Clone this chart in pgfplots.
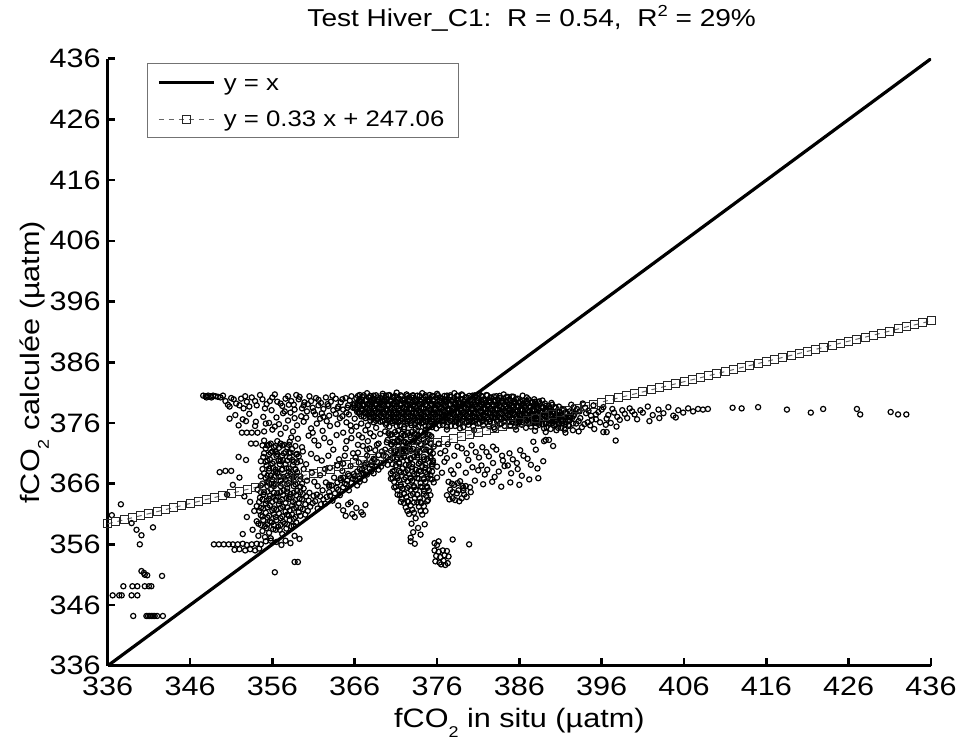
\documentclass[border=0pt]{standalone}
\usepackage{fontspec}
\setmainfont{Liberation Sans}[FakeStretch=1.15]
\usepackage{pgfplots}
\pgfplotsset{compat=1.18}
\newcommand{\sub}[1]{\raisebox{-4.7pt}{\fontsize{7.8}{8}\selectfont #1}}
\newcommand{\sups}[1]{\raisebox{4.8pt}{\fontsize{8}{8}\selectfont #1}}
\begin{document}
\begin{tikzpicture}
\begin{axis}[
  scale only axis, width=411.6pt, height=303.5pt,
  xmin=336, xmax=436, ymin=336, ymax=436,
  xtick={336,346,...,436}, ytick={336,346,...,436},
  axis x line*=bottom, axis y line*=left,
  axis line style={-, line width=1.3pt},
  every outer x axis line/.append style={-},
  every outer y axis line/.append style={-},
  tick style={line width=1.3pt, black},
  tick align=inside, major tick length=3.7pt,
  /pgf/number format/assume math mode=true,
  ticklabel style={font=\fontsize{13.3}{15}\selectfont},
  xticklabel style={yshift=-2pt},
  label style={font=\fontsize{13.3}{15}\selectfont},
  xlabel={fCO\sub{2} in situ (µatm)},
  ylabel={fCO\sub{2} calculée (µatm)},
  xlabel style={at={(axis description cs:0.5,0)}, anchor=base, yshift=-31pt},
  ylabel style={at={(axis description cs:-0.063,0.5)}, anchor=south},
  title={Test Hiver\_C1:\ \ R = 0.54,\ \ R\sups{2} = 29\%},
  title style={at={(axis description cs:0.515,1)}, anchor=base, yshift=10.3pt, font=\fontsize{12.2}{14}\selectfont},
  legend cell align=left,
  legend style={at={(axis description cs:0.0474,0.9924)}, anchor=north west,
    draw=black!55, line width=0.5pt, fill=white,
    font=\fontsize{11.2}{13}\selectfont,
    inner xsep=5pt, inner ysep=0.3pt, row sep=0pt, column sep=2.2pt,
    nodes={inner sep=2pt, text height=11pt, text depth=3.2pt, anchor=west}},
]
% scatter of data
\addplot[only marks, mark=o, mark size=1.3pt, black, mark options={line width=0.6pt}, forget plot] coordinates {
(366.6,380.6)(367.5,380.9)(368.3,380.5)(369.4,380.8)(370.2,380.6)(371.1,381.0)(372.3,380.7)(373.0,380.5)(374.2,380.9)(375.1,380.6)(376.0,380.8)(377.2,380.5)(378.1,380.9)(379.0,380.7)(380.3,380.5)(381.1,380.8)(382.0,380.6)(383.2,380.4)(384.1,380.7)(385.3,380.3)(386.4,380.5)
(366.2,380.1)(366.9,379.8)(367.7,380.2)(368.4,379.9)(369.1,380.1)(369.9,379.8)(370.6,380.2)(371.4,380.0)(372.1,379.8)(372.9,380.2)(373.6,379.9)(374.4,380.1)(375.1,379.8)(375.9,380.2)(376.6,380.0)(377.4,379.8)(378.1,380.1)(378.9,379.9)(379.6,380.2)(380.4,379.8)(381.1,380.0)(381.9,379.7)(382.6,380.1)(383.4,379.8)(384.1,380.0)(384.9,379.7)(385.6,379.9)(386.4,379.6)(387.1,379.9)(387.9,379.5)(388.8,379.7)
(366.0,379.2)(366.7,379.5)(367.5,379.1)(368.2,379.4)(369.0,379.2)(369.7,379.5)(370.5,379.1)(371.2,379.4)(372.0,379.3)(372.7,379.0)(373.5,379.4)(374.2,379.2)(375.0,379.5)(375.7,379.1)(376.5,379.3)(377.2,379.5)(378.0,379.1)(378.7,379.4)(379.5,379.2)(380.2,379.0)(381.0,379.3)(381.7,379.1)(382.5,379.4)(383.2,379.0)(384.0,379.3)(384.7,379.1)(385.5,379.3)(386.2,378.9)(387.0,379.2)(387.7,378.9)(388.5,379.1)(389.2,378.8)(390.0,379.0)(390.8,378.7)
(365.8,378.5)(366.6,378.8)(367.3,378.4)(368.1,378.7)(368.8,378.5)(369.6,378.8)(370.3,378.4)(371.1,378.7)(371.8,378.5)(372.6,378.3)(373.3,378.7)(374.1,378.5)(374.8,378.8)(375.6,378.4)(376.3,378.6)(377.1,378.8)(377.8,378.4)(378.6,378.7)(379.3,378.5)(380.1,378.3)(380.8,378.6)(381.6,378.4)(382.3,378.7)(383.1,378.3)(383.8,378.6)(384.6,378.4)(385.3,378.6)(386.1,378.2)(386.8,378.5)(387.6,378.2)(388.3,378.4)(389.1,378.1)(389.8,378.3)(390.6,378.0)(391.4,378.2)(392.1,377.9)
(366.3,377.8)(367.0,378.1)(367.8,377.7)(368.5,378.0)(369.3,377.8)(370.0,378.1)(370.8,377.7)(371.5,378.0)(372.3,377.8)(373.0,377.6)(373.8,378.0)(374.5,377.8)(375.3,378.1)(376.0,377.7)(376.8,377.9)(377.5,378.1)(378.3,377.7)(379.0,378.0)(379.8,377.8)(380.5,377.6)(381.3,377.9)(382.0,377.7)(382.8,378.0)(383.5,377.6)(384.3,377.9)(385.0,377.7)(385.8,377.9)(386.5,377.5)(387.3,377.8)(388.0,377.5)(388.8,377.7)(389.5,377.4)(390.3,377.6)(391.0,377.3)(391.8,377.5)(392.6,377.2)
(366.8,377.1)(367.6,377.4)(368.3,377.0)(369.1,377.3)(369.8,377.1)(370.6,377.4)(371.3,377.0)(372.1,377.3)(372.8,377.1)(373.6,376.9)(374.3,377.3)(375.1,377.1)(375.8,377.4)(376.6,377.0)(377.3,377.2)(378.1,377.4)(378.8,377.0)(379.6,377.3)(380.3,377.1)(381.1,376.9)(381.8,377.2)(382.6,377.0)(383.3,377.3)(384.1,376.9)(384.8,377.2)(385.6,377.0)(386.3,377.2)(387.1,376.8)(387.8,377.1)(388.6,376.8)(389.3,377.0)(390.1,376.7)(390.8,376.9)(391.6,376.6)(392.4,376.8)
(367.9,376.4)(368.7,376.7)(369.4,376.3)(370.2,376.6)(370.9,376.4)(371.7,376.7)(372.4,376.3)(373.2,376.6)(373.9,376.4)(374.7,376.2)(375.4,376.6)(376.2,376.4)(376.9,376.7)(377.7,376.3)(378.4,376.5)(379.2,376.7)(379.9,376.3)(380.7,376.6)(381.6,376.4)(382.4,376.2)(383.3,376.5)(384.2,376.3)(385.1,376.6)(386.0,376.2)(386.8,376.5)(387.6,376.3)(388.4,376.4)(389.2,376.0)(390.0,376.3)(390.8,376.0)(391.6,376.2)(392.5,375.9)
(369.8,375.7)(370.6,376.0)(371.5,375.6)(372.4,375.9)(373.3,375.7)(374.1,376.0)(375.0,375.6)(375.8,375.9)(376.7,375.7)(377.7,375.5)(378.6,375.9)(379.8,375.7)(381.0,375.9)(382.3,375.5)(383.6,375.8)(384.9,375.6)(386.3,375.7)(387.4,375.4)(388.4,375.7)(389.3,375.3)(390.2,375.6)(391.1,375.2)(392.0,375.5)
(372.0,375.0)(373.4,375.2)(374.6,374.9)(375.9,375.1)(377.2,374.9)(378.8,375.1)(380.5,374.8)(383.0,375.0)(385.6,374.9)(387.9,374.7)(389.2,374.5)(390.5,374.8)(391.6,374.4)
(366.9,380.3)(367.9,380.4)(368.8,380.2)(369.8,380.5)(370.7,380.3)(371.7,380.4)(372.6,380.2)(373.6,380.5)(374.6,380.3)(375.5,380.4)(376.4,380.2)(377.6,380.3)(378.5,380.5)(379.5,380.2)(380.7,380.4)(381.5,380.3)(382.5,380.2)(383.6,380.1)(384.6,380.3)(385.8,380.0)(386.9,380.2)(387.8,379.9)
(366.5,379.6)(367.3,379.7)(368.0,379.5)(368.8,379.8)(369.5,379.6)(370.3,379.7)(371.0,379.5)(371.8,379.8)(372.5,379.6)(373.3,379.7)(374.0,379.5)(374.8,379.8)(375.5,379.6)(376.3,379.7)(377.0,379.5)(377.8,379.6)(378.5,379.8)(379.3,379.5)(380.0,379.7)(380.8,379.6)(381.5,379.4)(382.3,379.7)(383.0,379.5)(383.8,379.6)(384.5,379.4)(385.3,379.5)(386.0,379.3)(386.8,379.5)(387.5,379.3)(388.3,379.4)(389.1,379.2)(389.9,379.3)
(365.9,378.9)(366.4,379.0)(367.1,378.8)(367.9,379.1)(368.6,378.9)(369.4,379.0)(370.1,378.8)(370.9,379.1)(371.6,378.9)(372.4,379.0)(373.1,378.8)(373.9,379.1)(374.6,378.9)(375.4,379.0)(376.1,378.8)(376.9,378.9)(377.6,379.1)(378.4,378.8)(379.1,379.0)(379.9,378.9)(380.6,378.7)(381.4,379.0)(382.1,378.8)(382.9,378.9)(383.6,378.7)(384.4,378.8)(385.1,378.6)(385.9,378.8)(386.6,378.6)(387.4,378.7)(388.1,378.5)(388.9,378.6)(389.6,378.4)(390.4,378.5)(391.2,378.3)
(366.2,378.2)(366.9,378.3)(367.7,378.1)(368.4,378.4)(369.2,378.2)(369.9,378.3)(370.7,378.1)(371.4,378.4)(372.2,378.2)(372.9,378.3)(373.7,378.1)(374.4,378.4)(375.2,378.2)(375.9,378.3)(376.7,378.1)(377.4,378.2)(378.2,378.4)(378.9,378.1)(379.7,378.3)(380.4,378.2)(381.2,378.0)(381.9,378.3)(382.7,378.1)(383.4,378.2)(384.2,378.0)(384.9,378.1)(385.7,377.9)(386.4,378.1)(387.2,377.9)(387.9,378.0)(388.7,377.8)(389.4,377.9)(390.2,377.7)(390.9,377.8)(391.7,377.6)(392.4,377.7)
(366.6,377.5)(367.4,377.6)(368.1,377.4)(368.9,377.7)(369.6,377.5)(370.4,377.6)(371.1,377.4)(371.9,377.7)(372.6,377.5)(373.4,377.6)(374.1,377.4)(374.9,377.7)(375.6,377.5)(376.4,377.6)(377.1,377.4)(377.9,377.5)(378.6,377.7)(379.4,377.4)(380.1,377.6)(380.9,377.5)(381.6,377.3)(382.4,377.6)(383.1,377.4)(383.9,377.5)(384.6,377.3)(385.4,377.4)(386.1,377.2)(386.9,377.4)(387.6,377.2)(388.4,377.3)(389.1,377.1)(389.9,377.2)(390.6,377.0)(391.4,377.1)(392.2,376.9)
(367.3,376.8)(368.0,376.9)(368.8,376.7)(369.5,377.0)(370.3,376.8)(371.0,376.9)(371.8,376.7)(372.5,377.0)(373.3,376.8)(374.0,376.9)(374.8,376.7)(375.5,377.0)(376.3,376.8)(377.0,376.9)(377.8,376.7)(378.5,376.8)(379.3,377.0)(380.0,376.7)(380.8,376.9)(381.5,376.8)(382.3,376.6)(383.0,376.9)(383.8,376.7)(384.5,376.8)(385.3,376.6)(386.0,376.7)(386.8,376.5)(387.5,376.7)(388.3,376.5)(389.0,376.6)(389.8,376.4)(390.5,376.5)(391.3,376.3)(392.1,376.4)
(368.3,376.1)(369.1,376.2)(369.8,376.0)(370.6,376.3)(371.3,376.1)(372.1,376.2)(372.8,376.0)(373.6,376.3)(374.3,376.1)(375.1,376.2)(375.8,376.0)(376.6,376.3)(377.3,376.1)(378.1,376.2)(378.8,376.0)(379.6,376.1)(380.3,376.3)(381.2,376.0)(382.0,376.2)(382.9,376.1)(383.8,375.9)(384.7,376.2)(385.6,376.0)(386.4,376.1)(387.2,375.9)(388.0,376.0)(388.8,375.8)(389.6,376.0)(390.4,375.8)(391.2,375.9)(392.0,375.7)
(370.2,375.4)(371.1,375.5)(372.0,375.3)(372.9,375.6)(373.7,375.4)(374.6,375.5)(375.4,375.3)(376.3,375.6)(377.2,375.4)(378.2,375.5)(379.2,375.3)(380.4,375.4)(381.6,375.6)(382.9,375.3)(384.2,375.5)(385.5,375.4)(386.8,375.2)(388.0,375.4)(389.0,375.1)(389.8,375.0)(390.7,375.2)(391.5,374.9)
(366.4,380.45)(367.1,380.55)(367.9,380.45)(368.6,380.55)(369.4,380.45)(370.1,380.55)(370.9,380.45)(371.6,380.55)(372.4,380.45)(373.1,380.55)(373.9,380.45)(374.6,380.55)(375.4,380.45)(376.1,380.55)(376.9,380.45)(377.6,380.55)(378.4,380.45)(379.1,380.55)(379.9,380.45)(380.6,380.55)(381.4,380.45)(382.1,380.55)(382.9,380.35)(383.6,380.45)(384.4,380.25)(385.1,380.35)
(366.6,379.85)(367.4,379.75)(368.1,379.85)(368.9,379.75)(369.6,379.85)(370.4,379.75)(371.1,379.85)(371.9,379.75)(372.6,379.85)(373.4,379.75)(374.1,379.85)(374.9,379.75)(375.6,379.85)(376.4,379.75)(377.1,379.85)(377.9,379.75)(378.6,379.85)(379.4,379.75)(380.1,379.85)(380.9,379.75)(381.6,379.85)(382.4,379.75)(383.1,379.75)(383.9,379.65)(384.6,379.75)(385.4,379.65)(386.1,379.55)(386.9,379.65)(387.6,379.45)(388.4,379.55)
(366.3,379.15)(367.1,379.05)(367.8,379.15)(368.6,379.05)(369.3,379.15)(370.1,379.05)(370.8,379.15)(371.6,379.05)(372.3,379.15)(373.1,379.05)(373.8,379.15)(374.6,379.05)(375.3,379.15)(376.1,379.05)(376.8,379.15)(377.6,379.05)(378.3,379.15)(379.1,379.05)(379.8,379.15)(380.6,379.05)(381.3,379.15)(382.1,379.05)(382.8,379.05)(383.6,378.95)(384.3,379.05)(385.1,378.95)(385.8,378.85)(386.6,378.95)(387.3,378.75)(388.1,378.85)(388.8,378.65)(389.6,378.75)(390.4,378.55)
(366.0,378.45)(366.8,378.35)(367.5,378.45)(368.3,378.35)(369.0,378.45)(369.8,378.35)(370.5,378.45)(371.3,378.35)(372.0,378.45)(372.8,378.35)(373.5,378.45)(374.3,378.35)(375.0,378.45)(375.8,378.35)(376.5,378.45)(377.3,378.35)(378.0,378.45)(378.8,378.35)(379.5,378.45)(380.3,378.35)(381.0,378.45)(381.8,378.35)(382.5,378.35)(383.3,378.25)(384.0,378.35)(384.8,378.25)(385.5,378.15)(386.3,378.25)(387.0,378.05)(387.8,378.15)(388.5,377.95)(389.3,378.05)(390.0,377.85)(390.8,377.95)(391.6,377.75)
(366.5,377.75)(367.2,377.65)(368.0,377.75)(368.7,377.65)(369.5,377.75)(370.2,377.65)(371.0,377.75)(371.7,377.65)(372.5,377.75)(373.2,377.65)(374.0,377.75)(374.7,377.65)(375.5,377.75)(376.2,377.65)(377.0,377.75)(377.7,377.65)(378.5,377.75)(379.2,377.65)(380.0,377.75)(380.7,377.65)(381.5,377.75)(382.2,377.65)(383.0,377.65)(383.7,377.55)(384.5,377.65)(385.2,377.55)(386.0,377.45)(386.7,377.55)(387.5,377.35)(388.2,377.45)(389.0,377.25)(389.7,377.35)(390.5,377.15)(391.2,377.25)(392.0,377.05)
(367.1,377.05)(367.8,376.95)(368.6,377.05)(369.3,376.95)(370.1,377.05)(370.8,376.95)(371.6,377.05)(372.3,376.95)(373.1,377.05)(373.8,376.95)(374.6,377.05)(375.3,376.95)(376.1,377.05)(376.8,376.95)(377.6,377.05)(378.3,376.95)(379.1,377.05)(379.8,376.95)(380.6,377.05)(381.3,376.95)(382.1,376.95)(382.8,376.85)(383.6,376.95)(384.3,376.85)(385.1,376.75)(385.8,376.85)(386.6,376.65)(387.3,376.75)(388.1,376.55)(388.8,376.65)(389.6,376.45)(390.3,376.55)(391.1,376.35)(391.9,376.45)
(368.6,376.35)(369.4,376.25)(370.1,376.35)(370.9,376.25)(371.6,376.35)(372.4,376.25)(373.1,376.35)(373.9,376.25)(374.6,376.35)(375.4,376.25)(376.1,376.35)(376.9,376.25)(377.6,376.35)(378.4,376.25)(379.1,376.35)(379.9,376.25)(380.6,376.35)(381.5,376.25)(382.4,376.25)(383.3,376.15)(384.2,376.25)(385.1,376.15)(386.0,376.05)(386.8,376.15)(387.6,375.95)(388.4,376.05)(389.2,375.85)(390.0,375.95)(390.8,375.75)(391.6,375.85)
(347.6,380.5)(347.9,380.4)(348.2,380.5)(348.5,380.4)(348.8,380.5)(349.1,380.4)(349.4,380.3)(349.7,380.2)(348.0,380.2)(348.6,380.2)
(350.3,379.6)(351.0,380.1)(351.6,379.2)(352.2,380.0)(352.9,379.5)(353.5,380.2)(354.1,378.9)(354.8,379.9)(355.3,379.1)(356.0,380.2)(356.6,379.5)(357.2,378.8)(350.8,378.7)(352.5,378.4)(355.9,378.1)(357.6,380.0)(358.3,379.6)
(357.9,380.4)(358.6,379.0)(359.3,380.3)(359.9,379.4)(358.2,377.7)(359.5,377.1)
(350.0,380.5)(350.6,379.0)(351.3,379.9)(352.0,378.9)(352.7,380.4)(353.2,378.7)(353.9,379.6)(354.5,380.6)(355.1,378.4)(355.7,379.6)(356.3,380.7)(357.0,379.2)(357.5,377.9)(358.0,379.0)(358.9,380.6)(359.6,378.4)(360.3,379.1)(360.5,380.4)(361.0,377.9)(361.6,379.8)(362.2,377.0)(362.7,379.1)(363.3,380.5)(363.9,378.4)(364.5,379.9)(365.0,377.7)(365.6,380.4)(365.1,378.5)(364.2,376.8)(363.0,375.5)(361.8,376.7)(360.7,375.1)(359.8,376.2)(358.7,376.8)(357.6,375.2)(356.3,375.4)(355.2,375.9)(353.9,375.5)(352.8,376.3)(351.9,375.6)(350.8,376.7)(366.0,376.7)(365.5,375.6)(366.8,375.9)(367.6,375.6)(368.6,375.2)(369.1,374.2)(367.9,374.3)(366.5,374.0)(365.6,374.7)
(360.7,379.6)(361.3,380.1)(361.9,379.3)(362.5,380.2)(363.1,379.5)(363.7,380.0)(364.3,379.4)(364.9,380.1)(365.4,379.7)
(360.9,378.5)(361.6,378.9)(362.2,378.3)(362.8,378.8)(363.4,378.1)(364.0,378.7)(364.6,378.2)(365.2,378.9)
(361.2,377.4)(362.0,377.6)(362.9,377.2)(363.7,377.5)(364.5,377.1)(365.3,377.4)
(359.2,379.9)(359.8,378.9)(360.2,377.9)(358.7,378.2)
(357.9,376.4)(359.0,375.6)(360.1,376.9)(358.5,374.6)(361.4,375.9)(362.6,376.3)(363.9,375.8)(365.0,376.1)(366.2,375.4)(367.3,374.8)(364.6,374.4)(362.1,374.7)(360.4,373.9)(359.1,373.4)
(351.5,377.3)(352.4,376.6)(353.2,377.5)(354.0,376.2)(354.9,377.0)(355.6,376.0)(352.3,374.4)(352.9,374.4)(353.5,374.4)(354.2,374.4)(355.0,374.6)(356.0,374.9)(356.8,375.8)(353.4,372.6)(354.0,372.6)(351.9,370.4)(352.8,369.9)(350.3,368.1)(351.0,368.1)(349.6,367.9)(352.0,367.0)(351.2,365.8)(350.5,364.2)(352.6,363.9)(356.5,376.9)(357.3,377.6)
(360.9,374.4)(362.3,373.5)(363.8,374.0)(365.6,373.5)(367.6,373.0)(368.9,372.6)(367.8,371.8)(366.4,372.4)(364.9,371.8)(363.0,372.8)(361.1,373.1)(359.2,370.5)(360.1,369.2)(361.4,370.2)(362.8,370.6)(364.6,369.3)(366.1,370.3)(367.2,369.1)(368.3,370.1)(369.3,371.3)(360.8,367.8)(362.4,368.4)(363.9,369.0)(365.2,367.6)(366.9,368.4)(368.1,369.0)(361.1,366.3)(362.9,365.8)(364.3,366.6)(359.0,369.5)(359.7,371.3)(358.3,373.6)(357.0,374.2)
(355.0,373.1)(355.8,372.6)(356.6,373.0)(357.4,372.4)(358.1,372.9)
(355.2,371.8)(356.0,371.3)(356.8,371.9)(357.6,371.2)(358.4,371.7)
(354.9,370.4)(355.7,370.0)(356.5,370.6)(357.3,369.9)(358.1,370.3)(358.9,370.8)
(355.3,369.0)(356.1,368.6)(356.9,369.2)(357.7,368.5)(358.5,369.1)
(355.0,367.7)(355.8,367.3)(356.6,367.8)(357.4,367.1)(358.2,367.6)(359.0,367.9)
(355.4,366.3)(356.2,366.0)(357.0,366.5)(357.8,365.9)(358.6,366.4)(359.4,366.7)
(354.2,365.0)(355.0,364.6)(355.8,365.1)(356.6,364.4)(357.4,364.9)(358.2,364.3)(359.0,364.8)(359.8,365.2)
(354.5,363.7)(355.3,363.2)(356.1,363.8)(356.9,363.1)(357.7,363.6)(358.5,363.0)(359.3,363.5)(360.1,363.9)
(354.1,362.3)(354.9,361.9)(355.7,362.4)(356.5,361.7)(357.3,362.2)(358.1,361.6)(358.9,362.1)(359.7,361.8)
(354.6,360.8)(355.4,360.4)(356.2,361.0)(357.0,360.3)(357.8,360.9)(358.6,360.2)(359.4,360.7)
(354.3,359.4)(355.1,359.0)(355.9,359.6)(356.7,358.9)(357.5,359.4)(358.3,359.0)
(354.8,358.2)(355.6,357.9)(356.4,358.4)(357.2,357.7)
(355.4,372.3)(356.2,372.0)(357.0,372.6)(357.8,372.0)(355.6,370.8)(356.4,371.2)(357.2,370.6)(358.0,371.0)(355.2,369.6)(356.0,369.3)(356.8,369.8)(357.6,369.2)(358.4,369.9)(355.6,368.1)(356.4,368.0)(357.2,368.3)(358.0,368.0)(358.8,368.4)(355.2,366.9)(356.0,366.7)(356.8,367.1)(357.6,366.7)(358.4,367.1)(354.6,365.7)(355.4,365.6)(356.2,365.6)(357.0,365.6)(357.8,365.2)(358.6,365.6)(359.4,365.5)(354.9,364.2)(355.7,364.0)(356.5,363.9)(357.3,364.1)(358.1,363.8)(358.9,364.1)(359.7,364.3)(354.4,363.0)(355.2,362.7)(356.0,363.0)(356.8,362.6)(357.6,362.8)(358.4,362.4)(359.2,362.8)(360.0,362.6)(354.4,361.5)(355.2,361.2)(356.0,361.6)(356.8,361.1)(357.6,361.4)(358.4,360.9)(359.2,361.3)(360.0,360.9)(354.9,360.0)(355.7,359.8)(356.5,360.0)(357.3,359.7)(358.1,360.0)(358.9,359.6)(355.3,358.7)(356.1,358.5)(356.9,358.4)(357.7,358.6)(354.3,357.4)(355.1,357.2)(355.8,356.6)
(354.8,372.3)(355.6,372.4)(356.4,372.2)(357.2,372.3)(358.0,372.4)(358.8,372.2)
(355.0,371.0)(355.8,371.1)(356.6,370.9)(357.4,371.0)(358.2,371.1)(359.0,370.9)
(354.6,369.7)(355.4,369.8)(356.2,369.6)(357.0,369.7)(357.8,369.8)(358.6,369.6)(359.4,369.7)
(354.8,368.4)(355.6,368.5)(356.4,368.3)(357.2,368.4)(358.0,368.5)(358.8,368.3)
(354.6,367.2)(355.4,367.3)(356.2,367.1)(357.0,367.2)(357.8,367.3)(358.6,367.1)(359.4,367.2)
(354.8,366.0)(355.6,366.1)(356.4,365.9)(357.2,366.0)(358.0,366.1)(358.8,365.9)(359.6,366.0)
(354.6,364.6)(355.4,364.7)(356.2,364.5)(357.0,364.6)(357.8,364.7)(358.6,364.5)(359.4,364.6)
(354.8,363.4)(355.6,363.5)(356.4,363.3)(357.2,363.4)(358.0,363.5)(358.8,363.3)(359.6,363.4)
(354.6,362.0)(355.4,362.1)(356.2,361.9)(357.0,362.0)(357.8,362.1)(358.6,361.9)(359.4,362.0)
(354.8,360.6)(355.6,360.7)(356.4,360.5)(357.2,360.6)(358.0,360.7)(358.8,360.5)
(354.6,359.2)(355.4,359.3)(356.2,359.1)(357.0,359.2)(357.8,359.3)(358.6,359.1)
(360.3,361.5)(360.9,362.8)(361.5,361.9)(361.8,363.9)(362.4,362.7)(362.9,364.6)(363.3,363.2)(363.8,365.3)(364.2,364.1)(364.8,366.0)(365.3,364.9)(365.8,366.8)(366.3,365.7)(366.8,367.6)(367.2,366.6)(367.8,368.5)(368.3,367.7)(368.7,369.6)(369.2,368.8)(369.8,370.5)(370.3,369.9)(370.9,371.4)(371.4,370.8)(371.9,372.3)
(360.5,364.5)(361.5,365.6)(362.5,366.2)(363.5,367.0)(364.5,368.1)(365.5,368.9)(366.5,369.5)(367.5,370.6)(368.5,371.5)(360.2,366.5)(361.8,367.4)(363.0,368.6)(364.1,370.0)(365.8,371.0)(367.0,372.2)(362.0,369.8)(359.8,368.4)(360.7,370.9)(363.4,371.6)(365.0,373.0)(366.9,373.6)(368.3,373.8)(361.6,372.3)(359.6,372.0)
(360.6,362.2)(361.2,363.1)(361.9,362.6)(362.6,363.8)(363.0,364.0)(363.6,364.4)(364.0,365.0)(364.6,365.4)(365.0,365.9)(365.6,366.1)(366.1,366.7)(366.6,366.3)(367.0,367.8)(367.5,367.5)(368.0,368.0)(368.5,368.8)(368.9,368.3)(369.5,369.4)(370.0,369.1)(370.6,370.2)(371.1,370.0)(371.6,371.7)(372.2,371.2)(372.6,372.2)(361.0,364.0)(362.1,364.9)(363.2,365.7)(364.3,366.9)(365.3,367.3)(366.3,368.0)(367.3,368.8)(368.4,369.9)(369.5,370.6)(370.4,371.4)(371.3,372.1)
(360.4,363.2)(361.4,364.2)(362.2,363.4)(362.9,365.5)(363.9,366.2)(364.6,367.0)(365.1,366.5)(365.9,367.6)(366.6,368.4)(367.4,369.4)(368.1,369.6)(368.9,370.7)(369.7,371.6)(370.5,372.4)(371.2,373.2)(369.9,372.8)(368.7,372.4)(367.5,371.6)(366.4,371.1)(364.8,370.6)
(364.0,362.4)(364.6,361.6)(365.2,362.6)(365.7,361.0)(366.2,362.0)(366.8,361.3)(367.3,362.5)(364.9,360.7)(366.0,360.5)(367.0,360.9)(365.5,362.9)(366.0,367.2)(366.6,366.8)(367.1,367.5)
(348.9,356.0)(349.5,356.0)(350.1,356.0)(350.7,356.0)(351.2,356.0)(351.8,356.0)(352.4,356.1)(352.9,355.9)(353.5,356.0)(354.1,356.1)(354.6,356.0)
(351.4,355.1)(352.0,355.2)(352.7,355.0)(353.3,355.2)(353.9,355.0)(354.4,355.3)
(355.2,356.5)(355.8,357.0)(356.5,356.4)(357.1,355.9)(357.6,356.6)(358.2,356.2)(358.7,357.4)(359.3,356.9)(358.7,353.1)(359.1,353.1)(356.3,351.4)
(352.4,357.7)(353.6,358.4)(354.1,359.8)(353.8,361.5)(353.3,363.0)(352.9,360.5)
(336.5,360.8)(337.6,362.6)(338.9,359.5)(339.5,358.4)(340.1,357.5)(339.9,356.0)(341.5,358.8)
(340.1,351.6)(340.4,351.3)(340.8,350.9)(342.6,350.8)(340.5,351.0)
(337.9,349.1)(339.0,349.1)(339.6,349.1)(340.5,349.1)(341.3,349.1)(341.0,349.1)
(336.6,347.6)(337.4,347.6)(337.7,347.6)(338.9,347.6)(339.6,347.6)
(339.1,344.2)(340.7,344.2)(340.9,344.2)(341.1,344.2)(341.3,344.2)(341.5,344.2)(341.7,344.2)(342.0,344.2)(342.7,344.2)
(375.6,372.1)(376.4,371.0)(377.3,372.5)(378.1,370.6)(379.0,371.8)(379.8,369.9)(380.7,371.2)(381.5,372.0)(382.3,370.5)(383.2,371.6)(384.0,369.8)(384.8,371.0)(385.7,369.4)(386.5,370.6)(387.4,369.1)(388.2,368.5)(388.9,369.7)
(381.4,369.0)(382.1,368.3)(382.8,369.4)(383.5,368.0)(384.2,368.9)(385.0,367.7)(385.8,368.4)(386.3,367.3)(383.0,367.1)(381.8,367.5)
(376.0,368.8)(376.9,369.6)(377.7,368.2)(378.6,369.0)(379.5,367.8)(380.3,368.7)(380.6,366.5)(381.6,365.9)(382.7,366.3)(383.8,365.5)(384.9,366.2)(386.0,365.8)(387.2,366.7)(388.3,366.9)(379.2,365.3)
(376.2,372.6)(377.0,371.4)(378.5,372.1)(379.6,371.0)(380.2,372.3)(381.1,370.3)(382.0,371.2)(382.8,372.1)(383.9,370.6)(385.2,370.0)(386.1,371.5)(387.0,370.1)(388.0,371.6)(384.6,369.0)(381.0,368.2)(377.2,370.2)(378.0,367.6)(375.5,369.8)(376.6,367.8)
(389.2,373.2)(389.6,373.2)(389.0,373.0)(390.1,372.2)(387.7,372.9)
(377.4,366.3)(378.1,365.8)(378.8,366.4)(379.5,365.6)(377.6,365.0)(378.4,364.4)(379.2,364.9)(377.9,363.6)(378.7,363.1)(379.6,363.8)(377.2,364.1)(380.1,364.6)
(377.8,366.0)(378.5,366.1)(379.1,365.6)(377.9,364.6)(378.6,364.9)(379.3,364.2)(378.2,363.3)(379.0,363.6)(377.5,363.4)(380.0,365.4)
(369.7,374.6)(370.5,374.1)(371.3,374.7)(372.1,374.0)(372.9,374.5)(373.7,373.9)(374.5,374.4)(375.3,373.8)
(370.0,373.2)(370.8,372.8)(371.6,373.4)(372.4,372.6)(373.2,373.1)(374.0,372.5)(374.8,373.0)
(372.7,371.7)(373.5,371.2)(374.3,371.8)(375.1,371.3)(371.9,371.0)
(371.6,370.3)(372.4,369.8)(373.2,370.4)(374.0,369.6)(374.8,370.1)(375.5,369.5)
(371.0,369.0)(371.8,368.5)(372.6,369.1)(373.4,368.3)(374.2,368.9)(375.0,368.2)
(370.4,367.7)(371.2,367.2)(372.0,367.8)(372.8,367.0)(373.6,367.6)(374.4,366.9)(375.2,367.4)(376.0,367.0)
(370.8,366.3)(371.6,365.8)(372.4,366.4)(373.2,365.6)(374.0,366.1)(374.8,365.5)(375.6,366.2)
(371.2,364.9)(372.0,364.4)(372.8,365.0)(373.6,364.2)(374.4,364.8)(375.2,364.1)
(371.7,363.5)(372.5,363.0)(373.3,363.6)(374.1,362.8)(374.9,363.3)
(372.2,362.1)(373.0,361.7)(373.8,362.2)(374.6,361.5)
(370.1,374.3)(370.9,374.5)(371.7,374.2)(372.5,374.4)(373.3,374.2)(374.1,374.6)(374.9,374.1)(370.4,372.5)(371.2,373.0)(372.0,372.9)(372.8,373.6)(373.6,372.8)(374.4,373.3)(375.2,372.6)(372.3,371.4)(373.1,371.7)(373.9,371.2)(374.7,371.6)(375.5,371.0)(372.0,370.6)(372.8,370.0)(373.6,370.7)(374.4,370.0)(375.2,370.5)(371.4,369.5)(372.2,369.1)(373.0,368.7)(373.8,369.3)(374.6,368.6)(375.4,368.9)(370.8,368.1)(371.6,367.9)(372.4,368.2)(373.2,367.6)(374.0,368.0)(374.8,367.6)(370.6,366.9)(371.4,366.6)(372.2,367.0)(373.0,366.5)(373.8,366.8)(374.6,366.3)(375.4,366.7)(371.0,365.5)(371.8,365.2)(372.6,365.6)(373.4,365.0)(374.2,365.4)(375.0,364.9)(371.5,364.1)(372.3,363.8)(373.1,364.3)(373.9,363.6)(374.7,364.0)(372.0,362.8)(372.8,362.4)(373.6,362.9)(374.4,362.3)(372.4,361.5)(373.2,361.2)(374.0,361.5)
(370.3,374.0)(371.1,374.1)(371.9,373.9)(372.7,374.0)(373.5,374.1)(374.3,373.9)(375.1,374.0)
(370.6,372.9)(371.4,373.0)(372.2,372.8)(373.0,372.9)(373.8,373.0)(374.6,372.8)
(371.2,371.5)(372.0,371.6)(372.8,371.4)(373.6,371.5)(374.4,371.6)(375.2,371.4)
(371.2,370.3)(372.0,370.4)(372.8,370.2)(373.6,370.3)(374.4,370.4)(375.2,370.2)
(370.6,369.2)(371.4,369.3)(372.2,369.1)(373.0,369.2)(373.8,369.3)(374.6,369.1)(375.4,369.2)
(370.6,368.0)(371.4,368.1)(372.2,367.9)(373.0,368.0)(373.8,368.1)(374.6,367.9)(375.4,368.0)
(370.4,366.8)(371.2,366.9)(372.0,366.7)(372.8,366.8)(373.6,366.9)(374.4,366.7)(375.2,366.8)
(370.8,365.4)(371.6,365.5)(372.4,365.3)(373.2,365.4)(374.0,365.5)(374.8,365.3)
(371.2,364.2)(372.0,364.3)(372.8,364.1)(373.6,364.2)(374.4,364.3)
(371.6,363.0)(372.4,363.1)(373.2,362.9)(374.0,363.0)(374.8,363.1)
(372.6,361.0)(373.4,360.3)(374.2,360.9)(372.9,359.4)(373.7,358.7)(374.5,359.3)(373.1,358.0)(374.0,357.6)(372.8,357.1)
(372.8,356.5)(373.3,356.1)(375.7,356.2)(376.2,356.5)(376.0,355.9)(377.9,356.8)(379.9,356.0)
(375.7,355.0)(376.2,354.8)(376.7,355.0)(377.2,354.9)(375.9,354.1)(376.4,353.9)(376.9,354.2)(377.4,354.0)(375.8,353.2)(376.3,353.0)(376.8,353.3)(377.3,352.9)(376.5,352.7)(377.0,352.6)
(392.3,379.0)(393.0,378.3)(393.7,379.2)(394.4,378.0)(392.7,377.5)(393.4,376.8)(394.1,377.6)(394.8,376.5)(392.9,375.9)(393.6,375.3)(394.3,376.1)(395.1,375.0)(392.5,374.8)(395.0,378.9)(395.6,377.8)(396.2,378.6)(396.8,377.3)(397.3,378.3)(397.9,377.0)(398.5,378.1)(399.1,376.8)(399.7,377.9)(400.3,376.6)(401.0,377.7)(395.8,376.1)(396.5,375.7)(397.1,376.0)(397.8,375.4)
(392.6,378.6)(393.3,377.9)(394.0,378.5)(394.7,377.2)(393.2,376.3)(393.9,375.8)(394.6,375.6)(395.3,376.6)(395.3,377.4)(396.0,378.2)(396.6,376.7)(397.5,377.7)(398.2,376.5)(398.8,377.5)(399.4,378.4)(400.0,377.4)(400.7,378.1)(393.2,374.6)
(396.2,374.5)(396.6,374.5)(397.7,373.1)
(401.6,378.7)(402.2,377.3)(402.9,378.2)(403.5,377.6)(404.1,378.6)(404.7,377.2)(405.3,378.1)(405.9,377.7)(406.5,378.4)(407.1,377.9)(407.7,378.3)(408.3,378.2)(408.9,378.3)(403.0,376.8)(405.0,376.9)(401.8,376.3)
(411.9,378.5)(413.0,378.4)(415.0,378.6)(418.5,378.2)(421.4,377.7)(422.9,378.3)(427.0,378.3)(427.4,377.4)(431.1,377.8)(432.0,377.4)(433.0,377.4)
};
% y = x
\addplot[black, line width=1.6pt, no marks,
  legend image code/.code={\draw[line width=1.6pt] (0pt,0pt) -- (27.5pt,0pt);}]
  coordinates {(336,336) (436,436)};
\addlegendentry{y = x}
% fitted line
\addplot[black!60, line width=0.5pt, dash pattern=on 2.5pt off 2.5pt,
  mark=square, mark size=2pt, mark options={solid, black!85, line width=0.5pt},
  legend image code/.code={\draw[mark repeat=2, mark phase=2] plot coordinates {(0pt,0pt) (13.75pt,0pt) (27.5pt,0pt)};}]
  table {
336 359.38
337 359.72
338 360.05
339 360.39
340 360.72
341 361.06
342 361.39
343 361.72
344 362.06
345 362.39
346 362.73
347 363.06
348 363.40
349 363.73
350 364.07
351 364.40
352 364.73
353 365.07
354 365.40
355 365.74
356 366.07
357 366.41
358 366.74
359 367.07
360 367.41
361 367.74
362 368.08
363 368.41
364 368.75
365 369.08
366 369.41
367 369.75
368 370.08
369 370.42
370 370.75
371 371.09
372 371.42
373 371.75
374 372.09
375 372.42
376 372.76
377 373.09
378 373.43
379 373.76
380 374.09
381 374.43
382 374.76
383 375.10
384 375.43
385 375.77
386 376.10
387 376.43
388 376.77
389 377.10
390 377.44
391 377.77
392 378.11
393 378.44
394 378.77
395 379.11
396 379.44
397 379.78
398 380.11
399 380.45
400 380.78
401 381.11
402 381.45
403 381.78
404 382.12
405 382.45
406 382.79
407 383.12
408 383.45
409 383.79
410 384.12
411 384.46
412 384.79
413 385.13
414 385.46
415 385.79
416 386.13
417 386.46
418 386.80
419 387.13
420 387.47
421 387.80
422 388.13
423 388.47
424 388.80
425 389.14
426 389.47
427 389.81
428 390.14
429 390.47
430 390.81
431 391.14
432 391.48
433 391.81
434 392.15
435 392.48
436 392.81
};
\addlegendentry{y = 0.33 x + 247.06\hspace{2pt}}
\end{axis}
\pgfresetboundingbox
\path[use as bounding box] ([xshift=-53.85pt,yshift=-36.15pt]current axis.south west) rectangle ([xshift=13pt,yshift=29.35pt]current axis.north east);
\end{tikzpicture}
\end{document}
